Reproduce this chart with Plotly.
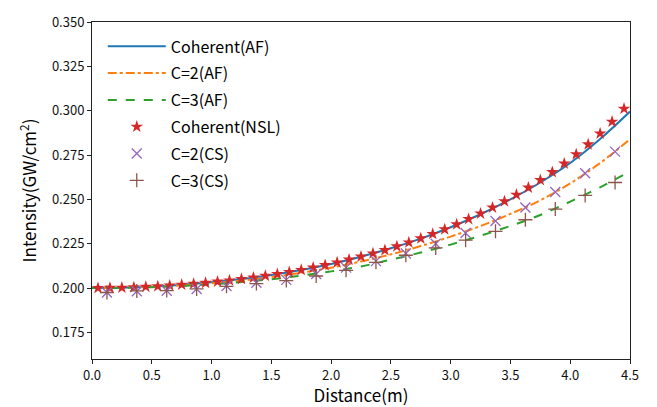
import plotly.graph_objects as go

# distances for the analytic (AF) curves
z_line = [0.00, 0.25, 0.50, 0.75, 1.00, 1.25, 1.50, 1.75, 2.00, 2.25,
          2.50, 2.75, 3.00, 3.25, 3.50, 3.75, 4.00, 4.25, 4.50]
coh_af = [0.2000, 0.2002, 0.2008, 0.2019, 0.2033, 0.2051, 0.2074, 0.2102, 0.2136, 0.2177,
          0.2224, 0.2279, 0.2343, 0.2416, 0.2500, 0.2595, 0.2705, 0.2840, 0.2995]
c2_af = [0.2000, 0.2002, 0.2007, 0.2015, 0.2027, 0.2042, 0.2062, 0.2086, 0.2115, 0.2150,
         0.2190, 0.2237, 0.2290, 0.2350, 0.2418, 0.2495, 0.2590, 0.2705, 0.2839]
c3_af = [0.2000, 0.2001, 0.2005, 0.2012, 0.2021, 0.2034, 0.2050, 0.2070, 0.2094, 0.2122,
         0.2160, 0.2200, 0.2245, 0.2295, 0.2350, 0.2412, 0.2487, 0.2568, 0.2658]

# NSL points
z_nsl = [0.05, 0.15, 0.25, 0.35, 0.45, 0.55, 0.65, 0.75, 0.85, 0.95,
         1.05, 1.15, 1.25, 1.35, 1.45, 1.55, 1.65, 1.75, 1.85, 1.95,
         2.05, 2.15, 2.25, 2.35, 2.45, 2.55, 2.65, 2.75, 2.85, 2.95,
         3.05, 3.15, 3.25, 3.35, 3.45, 3.55, 3.65, 3.75, 3.85, 3.95,
         4.05, 4.15, 4.25, 4.35, 4.45]
coh_nsl = [0.2000, 0.2001, 0.2002, 0.2004, 0.2007, 0.2010, 0.2014, 0.2019, 0.2024, 0.2029,
           0.2036, 0.2043, 0.2051, 0.2059, 0.2069, 0.2079, 0.2090, 0.2102, 0.2115, 0.2129,
           0.2144, 0.2160, 0.2177, 0.2195, 0.2214, 0.2235, 0.2257, 0.2280, 0.2305, 0.2331,
           0.2359, 0.2389, 0.2420, 0.2454, 0.2489, 0.2526, 0.2566, 0.2609, 0.2654, 0.2702,
           0.2754, 0.2810, 0.2871, 0.2938, 0.3011]

# CS points
z_cs = [0.125, 0.375, 0.625, 0.875, 1.125, 1.375, 1.625, 1.875, 2.125,
        2.375, 2.625, 2.875, 3.125, 3.375, 3.625, 3.875, 4.125, 4.375]
c2_cs = [0.1975, 0.1982, 0.1985, 0.1995, 0.2012, 0.2030, 0.2046, 0.2079, 0.2115,
         0.2152, 0.2195, 0.2250, 0.2310, 0.2378, 0.2454, 0.2542, 0.2647, 0.2769]
c3_cs = [0.1975, 0.1984, 0.1986, 0.1995, 0.2010, 0.2025, 0.2042, 0.2068, 0.2100,
         0.2145, 0.2185, 0.2226, 0.2270, 0.2320, 0.2385, 0.2445, 0.2522, 0.2595]

x_ticks = [0.0, 0.5, 1.0, 1.5, 2.0, 2.5, 3.0, 3.5, 4.0, 4.5]
y_ticks = [0.175, 0.200, 0.225, 0.250, 0.275, 0.300, 0.325, 0.350]

FONT = "Noto Sans CJK SC"

fig = go.Figure()
fig.add_trace(go.Scatter(x=z_line, y=coh_af, mode="lines", name="Coherent(AF)",
                         legendgroup="g1",
                         line=dict(color="#1f77b4", width=2, shape="spline")))
fig.add_trace(go.Scatter(x=z_line, y=c2_af, mode="lines", name="C=2(AF)",
                         legendgroup="g2",
                         line=dict(color="#ff7f0e", width=2, dash="dashdot", shape="spline")))
fig.add_trace(go.Scatter(x=z_line, y=c3_af, mode="lines", name="C=3(AF)",
                         legendgroup="g3",
                         line=dict(color="#2ca02c", width=2, dash="dash", shape="spline")))
fig.add_trace(go.Scatter(x=z_nsl, y=coh_nsl, mode="markers", name="Coherent(NSL)",
                         legendgroup="g4",
                         marker=dict(symbol="star", size=9.5, color="#d62728",
                                     line=dict(width=0))))
fig.add_trace(go.Scatter(x=z_cs, y=c2_cs, mode="markers", name="C=2(CS)",
                         legendgroup="g5",
                         marker=dict(symbol="x-thin", size=10,
                                     line=dict(color="#9467bd", width=1.3))))
fig.add_trace(go.Scatter(x=z_cs, y=c3_cs, mode="markers", name="C=3(CS)",
                         legendgroup="g6",
                         marker=dict(symbol="cross-thin", size=10,
                                     line=dict(color="#8c564b", width=1.3))))

axis_common = dict(showgrid=False, zeroline=False, showline=True, linecolor="#222",
                   linewidth=1, mirror=True, ticks="outside", ticklen=4,
                   tickcolor="#222", tickfont=dict(family=FONT, size=13, color="#111"))

fig.update_xaxes(range=[0, 4.5], tickvals=x_ticks,
                 ticktext=[f"{v:.1f}" for v in x_ticks],
                 title=dict(text="Distance(m)", font=dict(family=FONT, size=17, color="#000"),
                            standoff=0),
                 **axis_common)
fig.update_yaxes(range=[0.16, 0.35], tickvals=y_ticks,
                 ticktext=[f"{v:.3f}" for v in y_ticks],
                 title=dict(text="Intensity(GW/cm<sup>2</sup>)",
                            font=dict(family=FONT, size=17, color="#000"), standoff=10),
                 **axis_common)

fig.update_layout(
    width=657, height=407,
    margin=dict(l=92, r=27, t=13, b=48),
    paper_bgcolor="white", plot_bgcolor="white",
    showlegend=True,
    legend=dict(x=0.02, y=0.978, xanchor="left", yanchor="top",
                bgcolor="rgba(255,255,255,0)", borderwidth=0,
                font=dict(family=FONT, size=16, color="#000"),
                itemwidth=58, tracegroupgap=3),
)

fig.write_html("out.html")
